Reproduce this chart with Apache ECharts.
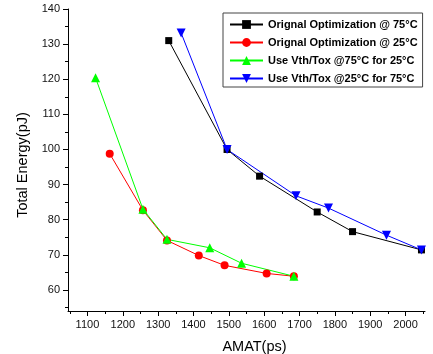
<!DOCTYPE html>
<html>
<head>
<meta charset="utf-8">
<script src="https://cdn.jsdelivr.net/npm/echarts@6/dist/echarts.min.js"></script>
<style>
html,body{margin:0;padding:0;background:#fff;}
#chart{width:433px;height:354px;}
</style>
</head>
<body>
<div id="chart"></div>
<script>
// values
const seriesNames = [
	'Orignal Optimization @ 75°C',
	'Orignal Optimization @ 25°C',
	'Use Vth/Tox @75°C for 25°C',
	'Use Vth/Tox @25°C for 75°C'
];
const blackX = [1330, 1495, 1587, 1750, 1850, 2045];
const blackY = [131, 100, 92.4, 82.2, 76.6, 71.4];
const redX = [1163, 1257, 1325, 1415, 1488, 1607, 1684];
const redY = [98.8, 82.7, 74.1, 69.8, 67.0, 64.7, 63.9];
const greenX = [1123, 1257, 1325, 1446, 1536, 1684];
const greenY = [120.4, 83.0, 74.4, 72.0, 67.6, 63.9];
const blueX = [1365, 1495, 1690, 1782, 1946, 2045];
const blueY = [133.2, 100, 86.8, 83.3, 75.6, 71.4];

const xTicks = [1100, 1200, 1300, 1400, 1500, 1600, 1700, 1800, 1900, 2000];
const xMinor = [1050, 1150, 1250, 1350, 1450, 1550, 1650, 1750, 1850, 1950, 2050];
const yTicks = [60, 70, 80, 90, 100, 110, 120, 130, 140];
const yMinor = [55, 65, 75, 85, 95, 105, 115, 125, 135];

const font = 'Liberation Sans, Arial, sans-serif';

function pairs(xs, ys) {
	return xs.map((x, i) => [x, ys[i]]);
}

let chart = echarts.init(document.getElementById('chart'));

const axisLine = { show: true, lineStyle: { color: '#000', width: 1 } };

chart.setOption({
	animation: false,
	backgroundColor: '#fff',
	grid: { left: 68, right: 8, top: 9, bottom: 43, outerBoundsMode: 'none', containLabel: false },
	legend: {
		orient: 'vertical',
		left: 223,
		top: 13,
		padding: [6, 5, 3, 6],
		itemWidth: 33,
		itemHeight: 11,
		itemGap: 7,
		backgroundColor: '#fff',
		borderColor: '#444',
		borderWidth: 1,
		textStyle: { fontFamily: font, fontSize: 11, fontWeight: 'bold', color: '#000' },
		data: seriesNames
	},
	xAxis: [{
		type: 'value',
		position: 'bottom',
		min: 1045,
		max: 2055,
		name: 'AMAT(ps)',
		nameLocation: 'middle',
		nameGap: 28,
		nameTextStyle: { fontFamily: font, fontSize: 14.5, color: '#000', padding: [0, 0, 0, 16] },
		axisLine: axisLine,
		axisTick: { show: true, inside: false, length: 5, customValues: xTicks, lineStyle: { color: '#000' } },
		axisLabel: { customValues: xTicks, margin: 8, fontFamily: font, fontSize: 11, color: '#111', formatter: v => String(v) },
		splitLine: { show: false }
	}, {
		type: 'value',
		position: 'bottom',
		min: 1045,
		max: 2055,
		axisLine: { show: false },
		axisTick: { show: true, length: 3, customValues: xMinor, lineStyle: { color: '#000' } },
		axisLabel: { show: false },
		splitLine: { show: false }
	}],
	yAxis: [{
		type: 'value',
		position: 'left',
		min: 54,
		max: 140,
		name: 'Total Energy(pJ)',
		nameLocation: 'middle',
		nameGap: 33,
		nameTextStyle: { fontFamily: font, fontSize: 14.5, color: '#000', padding: [0, 10, 0, 0] },
		axisLine: axisLine,
		axisTick: { show: true, inside: false, length: 5, customValues: yTicks, lineStyle: { color: '#000' } },
		axisLabel: { customValues: yTicks, margin: 8, fontFamily: font, fontSize: 11, color: '#111' },
		splitLine: { show: false }
	}, {
		type: 'value',
		position: 'left',
		min: 54,
		max: 140,
		axisLine: { show: false },
		axisTick: { show: true, length: 3, customValues: yMinor, lineStyle: { color: '#000' } },
		axisLabel: { show: false },
		splitLine: { show: false }
	}],
	series: [{
		name: seriesNames[0],
		type: 'line',
		data: pairs(blackX, blackY),
		symbol: 'rect',
		symbolSize: 7,
		lineStyle: { color: '#000', width: 1 },
		itemStyle: { color: '#000' }
	}, {
		name: seriesNames[1],
		type: 'line',
		data: pairs(redX, redY),
		symbol: 'circle',
		symbolSize: 8,
		lineStyle: { color: '#ff0000', width: 1 },
		itemStyle: { color: '#ff0000' }
	}, {
		name: seriesNames[2],
		type: 'line',
		data: pairs(greenX, greenY),
		symbol: 'triangle',
		symbolSize: 9,
		lineStyle: { color: '#00ff00', width: 1 },
		itemStyle: { color: '#00ff00' }
	}, {
		name: seriesNames[3],
		type: 'line',
		data: pairs(blueX, blueY),
		symbol: 'triangle',
		symbolRotate: 180,
		symbolSize: 9,
		lineStyle: { color: '#0000ff', width: 1 },
		itemStyle: { color: '#0000ff' }
	}]
});
</script>
</body>
</html>
